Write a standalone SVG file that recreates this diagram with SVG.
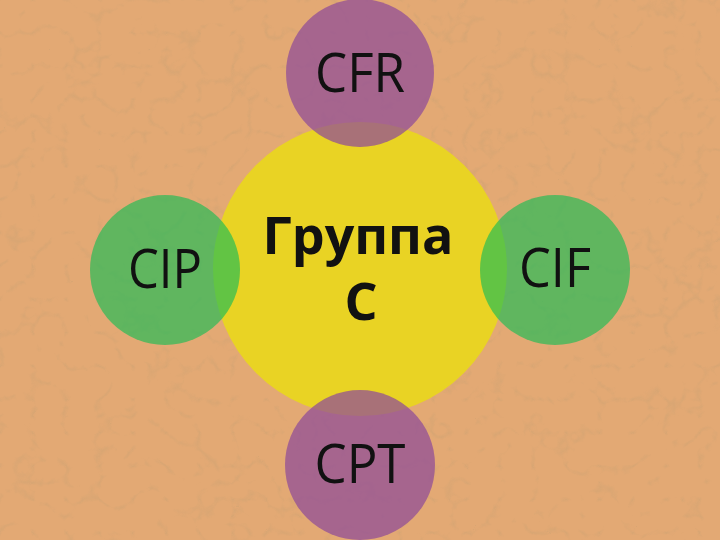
<svg xmlns="http://www.w3.org/2000/svg" width="720" height="540" viewBox="0 0 720 540">
  <defs>
    <filter id="marble" x="0" y="0" width="100%" height="100%">
      <feTurbulence type="turbulence" baseFrequency="0.03" numOctaves="3" seed="11" result="n"/>
      <feColorMatrix in="n" type="matrix" values="0 0 0 0 0.55  0 0 0 0 0.35  0 0 0 0 0.17  -3 0 0 0 0.55" />
    </filter>
    <style>
      .bg { fill: #e3a974; }
      .center { fill: #e9d324; }
      .purple { fill: #8f4b98; fill-opacity: 0.72; }
      .green { fill: #1cbc55; fill-opacity: 0.66; }
      .lbl { font-family: "Open Sans", "Noto Sans", "Liberation Sans", sans-serif; font-size: 54px; fill: #111111; text-anchor: middle; }
      .title { font-family: "Open Sans", "Noto Sans", "Liberation Sans", sans-serif; font-size: 52px; font-weight: bold; fill: #111111; text-anchor: middle; }
    </style>
  </defs>
  <rect class="bg" x="0" y="0" width="720" height="540"/>
  <rect x="0" y="0" width="720" height="540" filter="url(#marble)" opacity="0.6"/>

  <g id="center-node">
    <circle class="center" cx="360" cy="269" r="147"/>
  </g>
  <g id="node-cfr">
    <circle class="purple" cx="360" cy="73" r="74"/>
    <text class="lbl" x="360" y="92" textLength="90" lengthAdjust="spacingAndGlyphs">CFR</text>
  </g>
  <g id="node-cip">
    <circle class="green" cx="165" cy="270" r="75"/>
    <text class="lbl" x="165" y="288" textLength="74" lengthAdjust="spacingAndGlyphs">CIP</text>
  </g>
  <g id="node-cif">
    <circle class="green" cx="555" cy="270" r="75"/>
    <text class="lbl" x="555" y="287" textLength="72" lengthAdjust="spacingAndGlyphs">CIF</text>
  </g>
  <g id="node-cpt">
    <circle class="purple" cx="360" cy="465" r="75"/>
    <text class="lbl" x="360" y="483" textLength="91" lengthAdjust="spacingAndGlyphs">CPT</text>
  </g>
  <g id="center-label">
    <text class="title" x="358" y="254">Группа</text>
    <text class="title" x="361" y="320">C</text>
  </g>
  <g id="connectors"/>
</svg>
